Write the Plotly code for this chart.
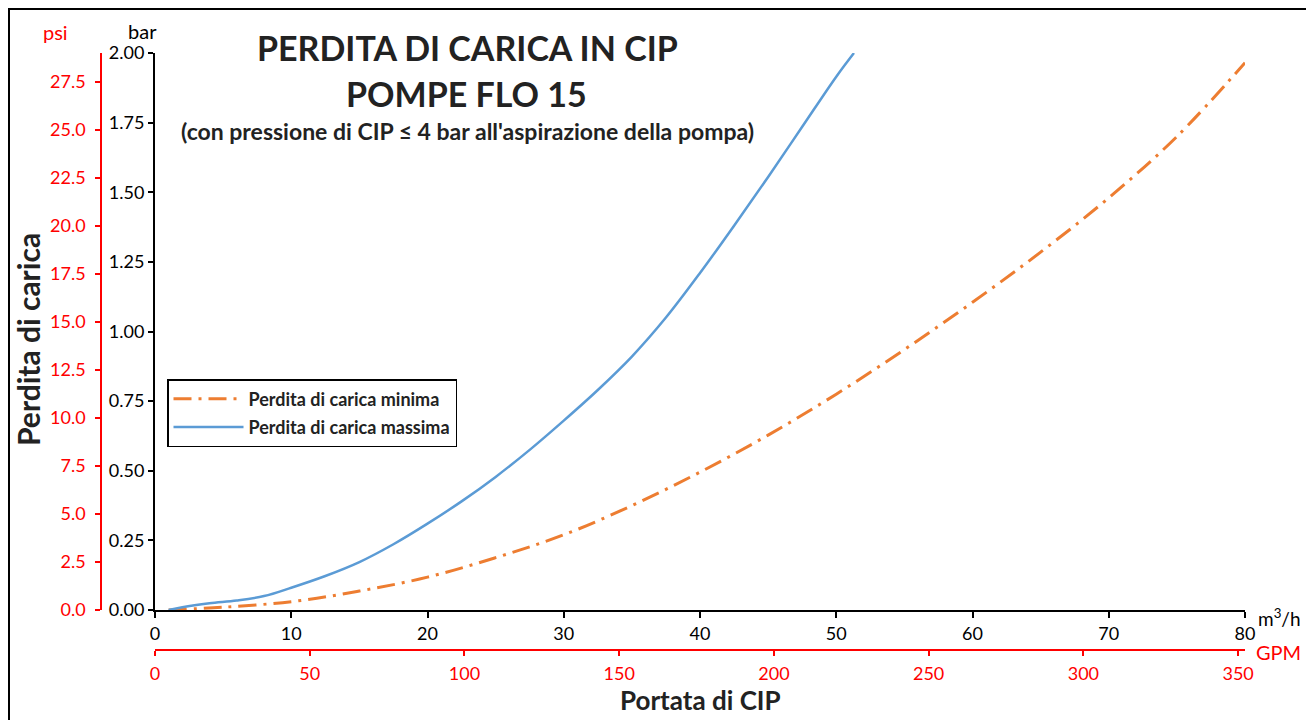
import plotly.graph_objects as go

# valori (portata m3/h, perdita bar)
flow_max = [1, 2, 4, 6, 8, 10, 12.5, 15, 17.5, 20, 22.5, 25, 27.5, 30, 32.5, 35, 37.5, 40, 42.5, 45, 47.5, 50, 51.3]
loss_max = [0, 0.01, 0.024, 0.034, 0.05, 0.08, 0.122, 0.172, 0.236, 0.31, 0.39, 0.478, 0.575, 0.68, 0.79, 0.91, 1.05, 1.21, 1.38, 1.555, 1.735, 1.915, 2.0]

flow_min = [1, 5, 10, 15, 20, 25, 30, 35, 40, 45, 50, 55, 60, 65, 70, 75, 80]
loss_min = [0, 0.01, 0.03, 0.068, 0.118, 0.188, 0.27, 0.375, 0.495, 0.628, 0.775, 0.935, 1.105, 1.285, 1.48, 1.70, 1.965]

bar_ticks = [0, 0.25, 0.5, 0.75, 1.0, 1.25, 1.5, 1.75, 2.0]
psi_ticks = [0, 2.5, 5, 7.5, 10, 12.5, 15, 17.5, 20, 22.5, 25, 27.5]
m3h_ticks = [0, 10, 20, 30, 40, 50, 60, 70, 80]
gpm_ticks = [0, 50, 100, 150, 200, 250, 300, 350]

BAR_TO_PSI = 14.5038
M3H_TO_GPM = 4.40287

# la pagina html ha 8px di margine: coordinate della pagina -> figura
OFF = 8
W, H = 1314, 720
ML, MR, MT, MB = 22, 77, 45, 68
PW, PH = W - ML - MR, H - MT - MB


def px_x(x):
    return (x - OFF - ML) / PW


def px_y(y):
    return (H - MB - (y - OFF)) / PH


FONT = "Lato"
BLUE = "#5B9BD5"
ORANGE = "#ED7D31"

fig = go.Figure()
fig.add_trace(go.Scatter(
    x=flow_min, y=loss_min, mode="lines", name="Perdita di carica minima", legendgroup="a",
    line=dict(color=ORANGE, width=3, dash="18px,7px,3px,7px", shape="spline"),
))
fig.add_trace(go.Scatter(
    x=flow_max, y=loss_max, mode="lines", name="Perdita di carica massima", legendgroup="b",
    line=dict(color=BLUE, width=2.5, shape="spline"),
))
# traccia vuota per gli assi secondari (psi, GPM)
fig.add_trace(go.Scatter(x=[None], y=[None], xaxis="x2", yaxis="y2", showlegend=False, hoverinfo="skip"))

fig.update_layout(
    width=W, height=H,
    margin=dict(l=ML, r=MR, t=MT, b=MB),
    paper_bgcolor="white", plot_bgcolor="white",
    font=dict(family=FONT, color="black"),
    xaxis=dict(
        domain=[px_x(155), 1], range=[0, 80], tickvals=m3h_ticks,
        showgrid=False, zeroline=False, showline=True, linecolor="black", linewidth=2,
        ticks="outside", ticklen=6, tickwidth=1.5, tickcolor="black",
        tickfont=dict(size=18, color="black"), anchor="y",
    ),
    yaxis=dict(
        domain=[px_y(610), 1], range=[0, 2], tickvals=bar_ticks, tickformat=".2f",
        showgrid=False, zeroline=False, showline=True, linecolor="black", linewidth=2,
        ticks="outside", ticklen=5, tickwidth=1.5, tickcolor="black",
        tickfont=dict(size=18, color="black"), anchor="x",
    ),
    xaxis2=dict(
        overlaying="x", anchor="free", position=px_y(650), side="bottom",
        range=[0, 80 * M3H_TO_GPM], tickvals=gpm_ticks,
        showgrid=False, zeroline=False, showline=True, linecolor="red", linewidth=1.5,
        ticks="outside", ticklen=5, tickwidth=1.5, tickcolor="red",
        tickfont=dict(size=18, color="red"), ticklabelstandoff=3,
    ),
    yaxis2=dict(
        overlaying="y", anchor="free", position=px_x(101), side="left",
        range=[0, 2 * BAR_TO_PSI], tickvals=psi_ticks, tickformat=".1f",
        showgrid=False, zeroline=False, showline=True, linecolor="red", linewidth=1.5,
        ticks="outside", ticklen=5, tickwidth=1.5, tickcolor="red",
        tickfont=dict(size=18, color="red"), ticklabelstandoff=6,
    ),
    legend=dict(
        x=px_x(167), y=px_y(379), xanchor="left", yanchor="top",
        bordercolor="black", borderwidth=1.5, bgcolor="white",
        font=dict(size=18, family=FONT, weight="bold", color="#222"),
        tracegroupgap=2, itemwidth=70,
    ),
    showlegend=True,
)

annotations = [
    ("<b>PERDITA DI CARICA IN CIP</b>", 467, 48, 34, "#222", 0),
    ("<b>POMPE FLO 15</b>", 466, 93, 34, "#222", 0),
    ("<b>(con pressione di CIP ≤ 4 bar all'aspirazione della pompa)</b>", 467, 131, 23, "#222", 0),
    ("psi", 55, 32, 20, "red", 0),
    ("bar", 142, 31, 20, "black", 0),
    ("m<sup>3</sup>/h", 1279, 617, 19, "black", 0),
    ("GPM", 1278, 652, 20, "red", 0),
    ("<b>Portata di CIP</b>", 700, 700, 26, "#222", 0),
    ("<b>Perdita di carica</b>", 28, 340, 30, "#222", -90),
]
for text, x, y, size, color, angle in annotations:
    fig.add_annotation(
        text=text, x=px_x(x), y=px_y(y), xref="paper", yref="paper",
        xanchor="center", yanchor="middle", showarrow=False, textangle=angle,
        font=dict(size=size, color=color, family=FONT),
    )

# cornice esterna
fig.add_shape(
    type="rect", xref="paper", yref="paper",
    x0=px_x(9), x1=px_x(1310), y0=px_y(740), y1=px_y(9),
    line=dict(color="black", width=2), fillcolor="rgba(0,0,0,0)", layer="below",
)

fig.write_html("out.html")
